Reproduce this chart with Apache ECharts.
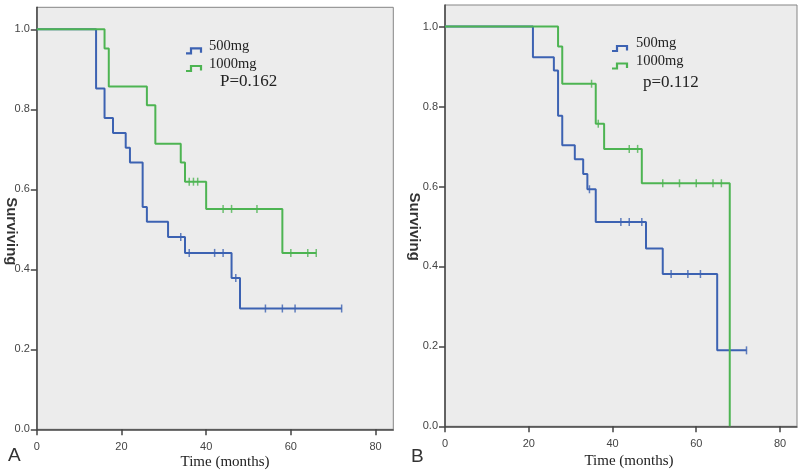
<!DOCTYPE html>
<html>
<head>
<meta charset="utf-8">
<script src="https://cdn.jsdelivr.net/npm/echarts@6/dist/echarts.min.js"></script>
<style>
html,body{margin:0;padding:0;background:#fff;}
#chart{width:800px;height:472px;}
</style>
</head>
<body>
<div id="chart"></div>
<script>
// ---- Data ----
const xTicks = [0, 20, 40, 60, 80];
const yTicks = [0, 0.2, 0.4, 0.6, 0.8, 1.0];

// Panel A
const a500Times = [0, 14, 16, 18, 21, 22, 25, 26, 31, 35, 46, 48, 72];
const a500Surv  = [1, 0.852, 0.778, 0.741, 0.704, 0.667, 0.556, 0.519, 0.481, 0.441, 0.378, 0.302, 0.302];
const a500CensorTimes = [34, 36, 42, 44, 47, 54, 58, 61, 72];
const a500CensorSurv  = [0.481, 0.441, 0.441, 0.441, 0.378, 0.302, 0.302, 0.302, 0.302];

const a1000Times = [0, 16, 17, 26, 28, 34, 35, 40, 58, 66];
const a1000Surv  = [1, 0.952, 0.857, 0.810, 0.714, 0.667, 0.619, 0.551, 0.441, 0.441];
const a1000CensorTimes = [36, 37, 38, 44, 46, 52, 60, 64, 66];
const a1000CensorSurv  = [0.619, 0.619, 0.619, 0.551, 0.551, 0.551, 0.441, 0.441, 0.441];

// Panel B
const b500Times = [0, 21, 26, 27, 28, 31, 33, 34, 36, 48, 52, 65, 72];
const b500Surv  = [1, 0.923, 0.890, 0.777, 0.703, 0.668, 0.631, 0.593, 0.511, 0.445, 0.381, 0.190, 0.190];
const b500CensorTimes = [34.5, 42, 44, 47, 54, 58, 61, 72];
const b500CensorSurv  = [0.593, 0.511, 0.511, 0.511, 0.381, 0.381, 0.381, 0.190];

const b1000Times = [0, 27, 28, 36, 38, 47, 68];
const b1000Surv  = [1, 0.950, 0.857, 0.757, 0.694, 0.608, 0];
const b1000CensorTimes = [35, 36.6, 44, 46, 52, 56, 60, 64, 66];
const b1000CensorSurv  = [0.857, 0.757, 0.694, 0.694, 0.608, 0.608, 0.608, 0.608, 0.608];

const seriesNames = ['500mg', '1000mg'];
const pValueA = 'P=0.162';
const pValueB = 'p=0.112';

// ---- Styling ----
const BLUE = '#3c62b2';
const GREEN = '#4db452';
const zip = (t, s) => t.map((v, i) => [v, s[i]]);

function xAxisCfg(gridIndex, max, pad, gap) {
  return {
    type: 'value', gridIndex, min: 0, max,
    name: 'Time (months)', nameLocation: 'middle', nameGap: gap, nameMoveOverlap: false,
    nameTextStyle: { fontFamily: 'Liberation Serif', fontSize: 15, color: '#222', padding: [0, 0, 0, pad] },
    axisLine: { show: true, onZero: false, lineStyle: { color: '#444', width: 1.5 } },
    axisTick: { show: true, length: 6, customValues: xTicks, lineStyle: { color: '#444', width: 1.5 } },
    axisLabel: { customValues: xTicks, margin: 12, fontFamily: 'Liberation Sans', fontSize: 11, color: '#444' },
    splitLine: { show: false }
  };
}
function yAxisCfg(gridIndex, max, pad, gap) {
  return {
    type: 'value', gridIndex, min: 0, max,
    name: 'Surviving', nameLocation: 'middle', nameRotate: -90, nameGap: gap, nameMoveOverlap: false,
    nameTextStyle: { fontFamily: 'Liberation Sans', fontWeight: 'bold', fontSize: 15, color: '#333', padding: [0, 0, 0, pad] },
    axisLine: { show: true, onZero: false, lineStyle: { color: '#444', width: 1.5 } },
    axisTick: { show: true, length: 6, customValues: yTicks, lineStyle: { color: '#444', width: 1.5 } },
    axisLabel: { customValues: yTicks, margin: 7, fontFamily: 'Liberation Sans', fontSize: 11, color: '#444',
      formatter: v => v.toFixed(1) },
    splitLine: { show: false }
  };
}
function stepSeries(name, idx, times, surv, color) {
  return { name, type: 'line', xAxisIndex: idx, yAxisIndex: idx, step: 'end', data: zip(times, surv),
    showSymbol: false, symbol: 'none', lineStyle: { color, width: 2 }, itemStyle: { color }, silent: true, animation: false };
}
function censorSeries(name, idx, times, surv, color) {
  return { name, type: 'scatter', xAxisIndex: idx, yAxisIndex: idx, data: zip(times, surv),
    symbol: 'rect', symbolSize: [1.5, 8], itemStyle: { color }, silent: true, animation: false };
}

function legendGraphics(x0, yBlue, yGreen, textX, pX, pY, pText) {
  const icon = (y, color) => ({
    type: 'polyline', silent: true,
    shape: { points: [[x0, y + 5], [x0 + 5, y + 5], [x0 + 5, y], [x0 + 15, y], [x0 + 15, y + 4.5]] },
    style: { stroke: color, lineWidth: 2.2, fill: null }
  });
  const txt = (x, y, t, size) => ({
    type: 'text', x, y, silent: true,
    style: { text: t, fontFamily: 'Liberation Serif', fontSize: size, fill: '#222', verticalAlign: 'middle', align: 'left' }
  });
  return [
    icon(yBlue, BLUE), icon(yGreen, GREEN),
    txt(textX, yBlue - 2.5, seriesNames[0], 14.5),
    txt(textX, yGreen - 2, seriesNames[1], 14.5),
    txt(pX, pY, pText, 17)
  ];
}

const chart = echarts.init(document.getElementById('chart'), null, { renderer: 'canvas' });
chart.setOption({
  backgroundColor: '#ffffff',
  animation: false,
  grid: [
    { left: 36.8, top: 7.3, width: 356.5, height: 422, show: true, containLabel: false, outerBoundsMode: 'none',
      backgroundColor: '#ececec', borderColor: '#858585', borderWidth: 1 },
    { left: 445, top: 5, width: 352, height: 421.3, show: true, containLabel: false, outerBoundsMode: 'none',
      backgroundColor: '#ececec', borderColor: '#858585', borderWidth: 1 }
  ],
  xAxis: [xAxisCfg(0, 84.2, 20, 25), xAxisCfg(1, 84.06, 16, 27)],
  yAxis: [yAxisCfg(0, 1.055, 26, 18.5), yAxisCfg(1, 1.054, 22, 23)],
  series: [
    stepSeries(seriesNames[0], 0, a500Times, a500Surv, BLUE),
    stepSeries(seriesNames[1], 0, a1000Times, a1000Surv, GREEN),
    censorSeries(seriesNames[0], 0, a500CensorTimes, a500CensorSurv, BLUE),
    censorSeries(seriesNames[1], 0, a1000CensorTimes, a1000CensorSurv, GREEN),
    stepSeries(seriesNames[0], 1, b500Times, b500Surv, BLUE),
    stepSeries(seriesNames[1], 1, b1000Times, b1000Surv, GREEN),
    censorSeries(seriesNames[0], 1, b500CensorTimes, b500CensorSurv, BLUE),
    censorSeries(seriesNames[1], 1, b1000CensorTimes, b1000CensorSurv, GREEN)
  ],
  graphic: [
    ...legendGraphics(186, 48.3, 66, 209, 220, 81.5, pValueA),
    ...legendGraphics(612, 46, 63.5, 636, 643, 82.7, pValueB),
    { type: 'text', x: 8, y: 456, silent: true, style: { text: 'A', fontFamily: 'Liberation Sans', fontSize: 19, fill: '#333', verticalAlign: 'middle' } },
    { type: 'text', x: 411, y: 457, silent: true, style: { text: 'B', fontFamily: 'Liberation Sans', fontSize: 19, fill: '#333', verticalAlign: 'middle' } }
  ]
});
</script>
</body>
</html>
